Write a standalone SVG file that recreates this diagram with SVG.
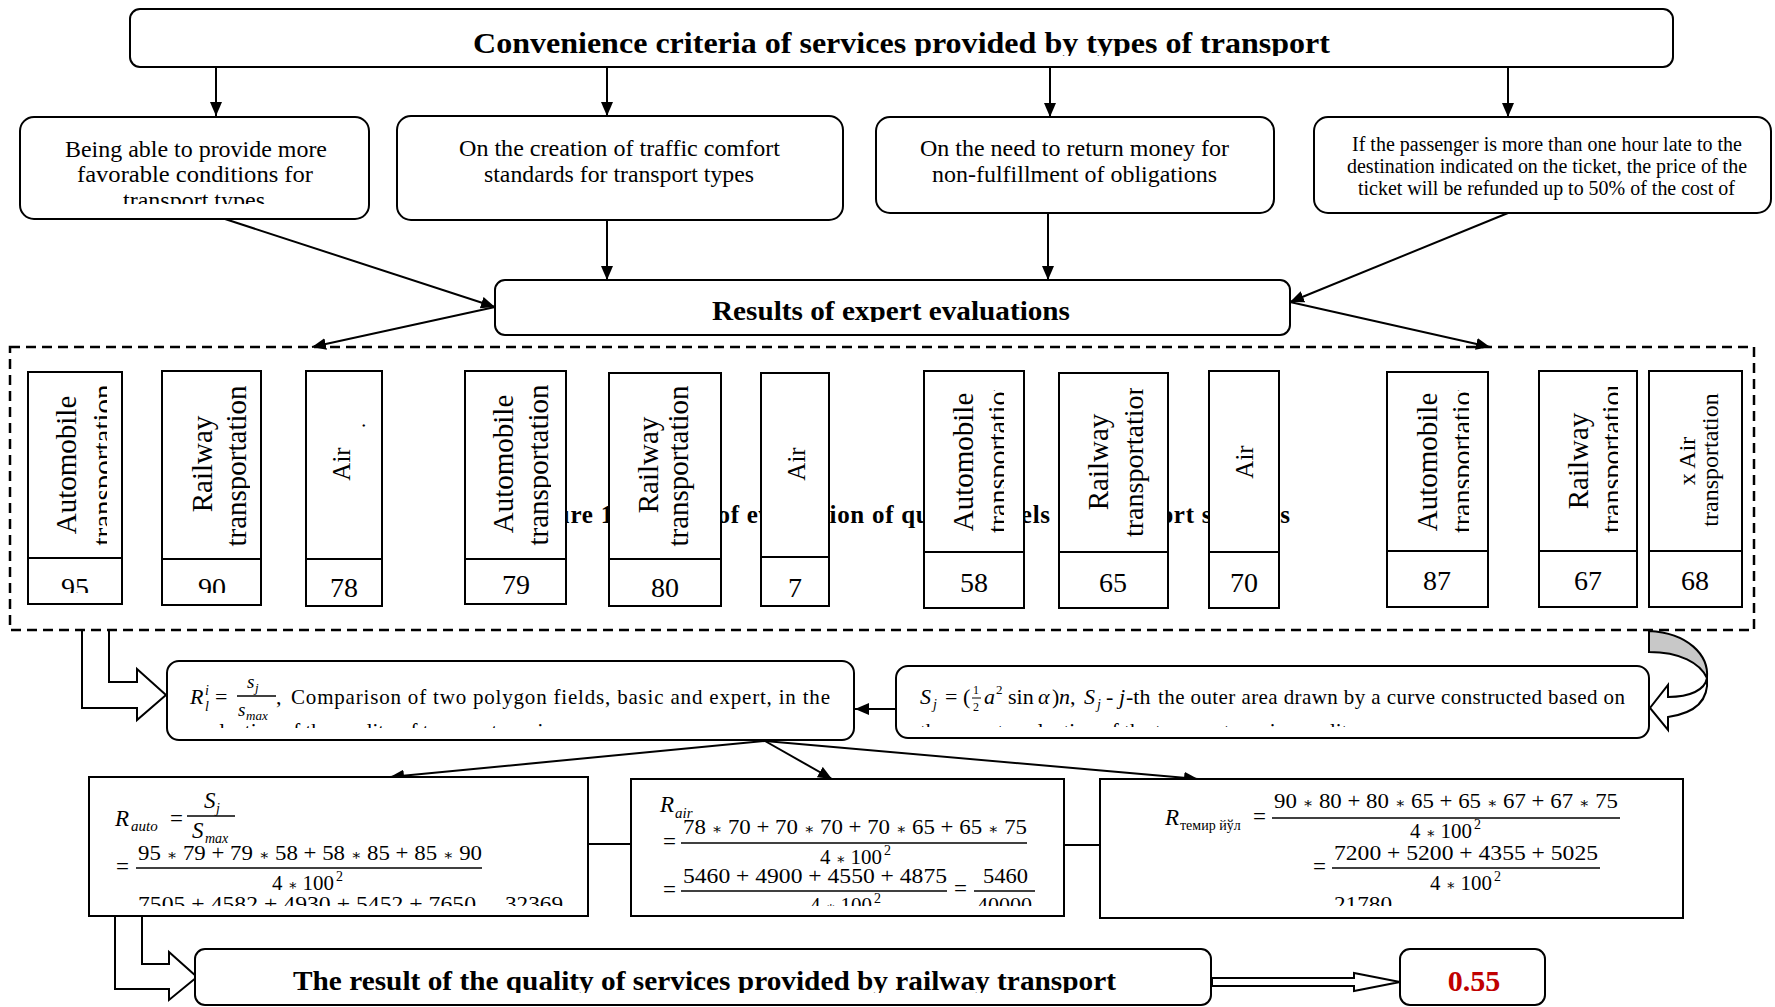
<svg xmlns="http://www.w3.org/2000/svg" width="1775" height="1007" viewBox="0 0 1775 1007">
<style>
.box{fill:#fff;stroke:#000;stroke-width:2}
.ln{stroke:#000;stroke-width:2;fill:none}
.t{font-family:"Liberation Serif","Times New Roman",serif;fill:#000}
.b{font-weight:bold}
.i{font-style:italic}
.op{font-size:15px;font-family:"DejaVu Serif","Liberation Serif",serif}
.blk{fill:#fff;stroke:#000;stroke-width:2;stroke-linejoin:miter}
</style>
<defs>
<marker id="ah" viewBox="0 0 14 12" refX="14" refY="6" markerWidth="14" markerHeight="12" markerUnits="userSpaceOnUse" orient="auto"><path d="M0,0 L14,6 L0,12 z" fill="#000"/></marker>
<clipPath id="cTitle"><rect x="130" y="9" width="1543" height="47"/></clipPath>
<clipPath id="cB1"><rect x="20" y="117" width="349" height="87"/></clipPath>
<clipPath id="cRes"><rect x="495" y="280" width="795" height="42"/></clipPath>
<clipPath id="cRl"><rect x="167" y="661" width="687" height="67"/></clipPath>
<clipPath id="cSj"><rect x="896" y="666" width="753" height="61"/></clipPath>
<clipPath id="cAuto"><rect x="89" y="777" width="499" height="129"/></clipPath>
<clipPath id="cAir"><rect x="631" y="779" width="433" height="127"/></clipPath>
<clipPath id="cTem"><rect x="1100" y="779" width="583" height="127"/></clipPath>
<clipPath id="cResult"><rect x="195" y="949" width="1016" height="44"/></clipPath>
<clipPath id="c1A"><rect x="28" y="372" width="79" height="186"/></clipPath>
<clipPath id="c1R"><rect x="162" y="371" width="88" height="188"/></clipPath>
<clipPath id="c1N"><rect x="28" y="559" width="240" height="34"/></clipPath>
<clipPath id="c2A"><rect x="465" y="371" width="86" height="188"/></clipPath>
<clipPath id="c3A"><rect x="924" y="390" width="80" height="162"/></clipPath>
<clipPath id="c3R"><rect x="1059" y="388" width="109" height="164"/></clipPath>
<clipPath id="c4A"><rect x="1387" y="390" width="82" height="161"/></clipPath>
<clipPath id="c4R"><rect x="1539" y="387" width="79" height="164"/></clipPath>
</defs>
<rect width="1775" height="1007" fill="#fff"/>

<!-- connectors -->
<g id="connectors">
<line class="ln" x1="216" y1="67" x2="216" y2="116" marker-end="url(#ah)"/>
<line class="ln" x1="607" y1="67" x2="607" y2="116" marker-end="url(#ah)"/>
<line class="ln" x1="1050" y1="67" x2="1050" y2="117" marker-end="url(#ah)"/>
<line class="ln" x1="1508" y1="67" x2="1508" y2="117" marker-end="url(#ah)"/>
<line class="ln" x1="225" y1="219" x2="495" y2="307" marker-end="url(#ah)"/>
<line class="ln" x1="607" y1="220" x2="607" y2="280" marker-end="url(#ah)"/>
<line class="ln" x1="1048" y1="213" x2="1048" y2="280" marker-end="url(#ah)"/>
<line class="ln" x1="1508" y1="213" x2="1290" y2="302" marker-end="url(#ah)"/>
<line class="ln" x1="495" y1="307" x2="312" y2="347" marker-end="url(#ah)"/>
<line class="ln" x1="1290" y1="302" x2="1490" y2="347" marker-end="url(#ah)"/>
<line class="ln" x1="896" y1="709" x2="855" y2="709" marker-end="url(#ah)"/>
<line class="ln" x1="765" y1="741" x2="390" y2="777" marker-end="url(#ah)"/>
<line class="ln" x1="765" y1="741" x2="832" y2="779" marker-end="url(#ah)"/>
<line class="ln" x1="765" y1="741" x2="1198" y2="779" marker-end="url(#ah)"/>
<line class="ln" x1="588" y1="844" x2="631" y2="844"/>
<line class="ln" x1="1064" y1="845" x2="1100" y2="845"/>
<path class="blk" d="M82,630 L82,708 L137,708 L137,720 L166,695 L137,669 L137,682 L109,682 L109,630"/>
<path class="blk" d="M115,916 L115,989 L169,989 L169,1000 L197,977 L169,952 L169,964 L142,964 L142,916"/>
<polygon class="blk" points="1212,978 1354,978 1354,973 1400,982 1354,991 1354,986 1212,986"/>
<path d="M1649,631 C1688,633 1709,655 1707,678 C1700,663 1680,652 1649,652 Z" fill="#c8c8c8" stroke="#000" stroke-width="2"/>
<path d="M1707,678 C1705,690 1690,697 1668,697 L1668,685 L1650,708 L1668,730 L1668,717 C1696,713 1709,700 1707,678 Z" fill="#fff" stroke="#000" stroke-width="2"/>
</g>

<!-- title -->
<g id="title">
<rect class="box" x="130" y="9" width="1543" height="58" rx="10"/>
<text class="t b" x="473" y="53" font-size="30" textLength="857" lengthAdjust="spacingAndGlyphs" clip-path="url(#cTitle)">Convenience criteria of services provided by types of transport</text>
</g>

<g id="crit1">
<rect class="box" x="20" y="117" width="349" height="102" rx="14"/>
<g clip-path="url(#cB1)">
<text class="t" x="65" y="157" font-size="23" textLength="262" lengthAdjust="spacingAndGlyphs">Being able to provide more</text>
<text class="t" x="77" y="182" font-size="23" textLength="236" lengthAdjust="spacingAndGlyphs">favorable conditions for</text>
<text class="t" x="123" y="208" font-size="23" textLength="142" lengthAdjust="spacingAndGlyphs">transport types</text>
</g>
</g>
<g id="crit2">
<rect class="box" x="397" y="116" width="446" height="104" rx="14"/>
<text class="t" x="459" y="156" font-size="23" textLength="321" lengthAdjust="spacingAndGlyphs">On the creation of traffic comfort</text>
<text class="t" x="484" y="182" font-size="23" textLength="270" lengthAdjust="spacingAndGlyphs">standards for transport types</text>
</g>
<g id="crit3">
<rect class="box" x="876" y="117" width="398" height="96" rx="14"/>
<text class="t" x="920" y="156" font-size="23" textLength="309" lengthAdjust="spacingAndGlyphs">On the need to return money for</text>
<text class="t" x="932" y="182" font-size="23" textLength="285" lengthAdjust="spacingAndGlyphs">non-fulfillment of obligations</text>
</g>
<g id="crit4">
<rect class="box" x="1314" y="117" width="457" height="96" rx="14"/>
<text class="t" x="1352" y="151" font-size="20" textLength="390" lengthAdjust="spacingAndGlyphs">If the passenger is more than one hour late to the</text>
<text class="t" x="1347" y="173" font-size="20" textLength="400" lengthAdjust="spacingAndGlyphs">destination indicated on the ticket, the price of the</text>
<text class="t" x="1358" y="195" font-size="20" textLength="377" lengthAdjust="spacingAndGlyphs">ticket will be refunded up to 50% of the cost of</text>
</g>

<g id="results">
<rect class="box" x="495" y="280" width="795" height="55" rx="10"/>
<text class="t b" x="712" y="320" font-size="27" textLength="358" lengthAdjust="spacingAndGlyphs" clip-path="url(#cRes)">Results of expert evaluations</text>
</g>

<!-- evaluation panel -->
<g id="panel">
<rect x="10" y="347" width="1744" height="283" fill="none" stroke="#000" stroke-width="2.5" stroke-dasharray="10,6"/>
<text class="t b" x="519" y="523" font-size="25" textLength="771">Figure 1. Results of evaluation of quality levels of transport services</text>
</g>

<g id="g1-auto">
<rect class="box" x="28" y="372" width="94" height="232"/><line class="ln" x1="28" y1="558" x2="122" y2="558"/>
<text class="t" font-size="29" text-anchor="middle" transform="translate(76,465) rotate(-90)">Automobile</text>
<g clip-path="url(#c1A)"><text class="t" font-size="29" text-anchor="middle" transform="translate(113,465) rotate(-90)">transportation</text></g>
<g clip-path="url(#c1N)"><text class="t" font-size="28" text-anchor="middle" x="75" y="597">95</text></g>
</g>
<g id="g1-rail">
<rect class="box" x="162" y="371" width="99" height="234"/><line class="ln" x1="162" y1="559" x2="261" y2="559"/>
<text class="t" font-size="29" text-anchor="middle" transform="translate(212,464) rotate(-90)">Railway</text>
<g clip-path="url(#c1R)"><text class="t" font-size="29" text-anchor="middle" transform="translate(246,466) rotate(-90)">transportation</text></g>
<g clip-path="url(#c1N)"><text class="t" font-size="28" text-anchor="middle" x="212" y="597">90</text></g>
</g>
<g id="g1-air">
<rect class="box" x="306" y="371" width="76" height="235"/><line class="ln" x1="306" y1="559" x2="382" y2="559"/>
<text class="t" font-size="25" text-anchor="middle" transform="translate(350,464) rotate(-90)">Air</text>
<text class="t" font-size="20" transform="translate(365,428) rotate(-90)">.</text>
<text class="t" font-size="28" text-anchor="middle" x="344" y="597">78</text>
</g>

<g id="g2-auto">
<rect class="box" x="465" y="371" width="101" height="233"/><line class="ln" x1="465" y1="559" x2="566" y2="559"/>
<text class="t" font-size="29" text-anchor="middle" transform="translate(513,464) rotate(-90)">Automobile</text>
<g clip-path="url(#c2A)"><text class="t" font-size="29" text-anchor="middle" transform="translate(548,465) rotate(-90)">transportation</text></g>
<text class="t" font-size="28" text-anchor="middle" x="516" y="594">79</text>
</g>
<g id="g2-rail">
<rect class="box" x="609" y="373" width="112" height="233"/><line class="ln" x1="609" y1="559" x2="721" y2="559"/>
<text class="t" font-size="29" text-anchor="middle" transform="translate(658,465) rotate(-90)">Railway</text>
<text class="t" font-size="29" text-anchor="middle" transform="translate(688,466) rotate(-90)">transportation</text>
<text class="t" font-size="28" text-anchor="middle" x="665" y="597">80</text>
</g>
<g id="g2-air">
<rect class="box" x="761" y="373" width="68" height="233"/><line class="ln" x1="761" y1="557" x2="829" y2="557"/>
<text class="t" font-size="25" text-anchor="middle" transform="translate(805,464) rotate(-90)">Air</text>
<text class="t" font-size="28" text-anchor="middle" x="795" y="597">7</text>
</g>

<g id="g3-auto">
<rect class="box" x="924" y="371" width="100" height="237"/><line class="ln" x1="924" y1="552" x2="1024" y2="552"/>
<text class="t" font-size="29" text-anchor="middle" transform="translate(973,462) rotate(-90)">Automobile</text>
<g clip-path="url(#c3A)"><text class="t" font-size="28" transform="translate(1007,533) rotate(-90)">transportation</text></g>
<text class="t" font-size="28" text-anchor="middle" x="974" y="592">58</text>
</g>
<g id="g3-rail">
<rect class="box" x="1059" y="373" width="109" height="235"/><line class="ln" x1="1059" y1="552" x2="1168" y2="552"/>
<text class="t" font-size="29" text-anchor="middle" transform="translate(1108,462) rotate(-90)">Railway</text>
<g clip-path="url(#c3R)"><text class="t" font-size="28" transform="translate(1143,537) rotate(-90)">transportation</text></g>
<text class="t" font-size="28" text-anchor="middle" x="1113" y="592">65</text>
</g>
<g id="g3-air">
<rect class="box" x="1209" y="371" width="70" height="237"/><line class="ln" x1="1209" y1="552" x2="1279" y2="552"/>
<text class="t" font-size="25" text-anchor="middle" transform="translate(1253,462) rotate(-90)">Air</text>
<text class="t" font-size="28" text-anchor="middle" x="1244" y="592">70</text>
</g>

<g id="g4-auto">
<rect class="box" x="1387" y="372" width="101" height="235"/><line class="ln" x1="1387" y1="551" x2="1488" y2="551"/>
<text class="t" font-size="29" text-anchor="middle" transform="translate(1437,462) rotate(-90)">Automobile</text>
<g clip-path="url(#c4A)"><text class="t" font-size="28" transform="translate(1471,533) rotate(-90)">transportation</text></g>
<text class="t" font-size="28" text-anchor="middle" x="1437" y="590">87</text>
</g>
<g id="g4-rail">
<rect class="box" x="1539" y="371" width="98" height="236"/><line class="ln" x1="1539" y1="551" x2="1637" y2="551"/>
<text class="t" font-size="29" text-anchor="middle" transform="translate(1588,461) rotate(-90)">Railway</text>
<g clip-path="url(#c4R)"><text class="t" font-size="28" transform="translate(1621,533) rotate(-90)">transportation</text></g>
<text class="t" font-size="28" text-anchor="middle" x="1588" y="590">67</text>
</g>
<g id="g4-air">
<rect class="box" x="1649" y="371" width="93" height="236"/><line class="ln" x1="1649" y1="551" x2="1742" y2="551"/>
<text class="t" font-size="24" text-anchor="middle" transform="translate(1695,461) rotate(-90)">x Air</text>
<text class="t" font-size="24" text-anchor="middle" transform="translate(1718,460) rotate(-90)">transportation</text>
<text class="t" font-size="28" text-anchor="middle" x="1695" y="590">68</text>
</g>

<!-- R_l box -->
<g id="ratio">
<rect class="box" x="167" y="661" width="687" height="79" rx="12"/>
<text class="t" font-size="22"><tspan class="i" x="190" y="704">R</tspan><tspan class="i" font-size="14" x="205" y="695">i</tspan><tspan class="i" font-size="14" x="205" y="711">l</tspan><tspan x="215" y="704">=</tspan><tspan class="i" font-size="19" x="247" y="688">s</tspan><tspan class="i" font-size="13" x="255" y="692">j</tspan><tspan class="i" font-size="19" x="238" y="716">s</tspan><tspan class="i" font-size="13" x="246" y="720">max</tspan><tspan x="276" y="704">,</tspan></text>
<line x1="237" y1="696" x2="276" y2="696" stroke="#000" stroke-width="1.5"/>
<text class="t" x="291" y="704" font-size="21" textLength="539">Comparison of two polygon fields, basic and expert, in the</text>
<text class="t" x="190" y="738" font-size="21" clip-path="url(#cRl)">evaluation of the quality of transport services</text>
</g>

<!-- S_j box -->
<g id="area">
<rect class="box" x="896" y="666" width="753" height="72" rx="12"/>
<text class="t" font-size="22"><tspan class="i" x="920" y="704">S</tspan><tspan class="i" font-size="14" x="933" y="709">j</tspan><tspan x="945" y="704">=</tspan><tspan x="963" y="704">(</tspan><tspan font-size="12" x="973" y="694">1</tspan><tspan font-size="12" x="973" y="711">2</tspan><tspan class="i" x="984" y="704">a</tspan><tspan font-size="13" x="996" y="694">2</tspan><tspan x="1008" y="704">sin</tspan><tspan class="i" x="1038" y="704">α</tspan><tspan x="1052" y="704">)</tspan><tspan class="i" x="1059" y="704">n</tspan><tspan x="1070" y="704">,</tspan><tspan class="i" x="1084" y="704">S</tspan><tspan class="i" font-size="14" x="1097" y="709">j</tspan><tspan x="1106" y="704">-</tspan><tspan class="i" x="1119" y="704">j</tspan><tspan x="1126" y="704">-th</tspan></text>
<line x1="972" y1="698" x2="981" y2="698" stroke="#000" stroke-width="1"/>
<text class="t" x="1158" y="704" font-size="21" textLength="467">the outer area drawn by a curve constructed based on</text>
<text class="t" x="920" y="738" font-size="21" clip-path="url(#cSj)">the expert evaluation of the transport service quality</text>
</g>

<!-- R_auto -->
<g id="r-auto">
<rect class="box" x="89" y="777" width="499" height="139"/>
<g clip-path="url(#cAuto)">
<text class="t" font-size="23"><tspan class="i" x="115" y="826">R</tspan><tspan class="i" font-size="15" x="131" y="831">auto</tspan><tspan x="170" y="826">=</tspan><tspan class="i" x="204" y="808">S</tspan><tspan class="i" font-size="14" x="216" y="813">j</tspan><tspan class="i" x="192" y="838">S</tspan><tspan class="i" font-size="14" x="205" y="843">max</tspan><tspan x="116" y="874">=</tspan></text>
<line x1="187" y1="816" x2="235" y2="816" stroke="#000" stroke-width="1.5"/>
<text class="t" x="138" y="860" font-size="22" textLength="344" lengthAdjust="spacingAndGlyphs">95 <tspan class="op">∗</tspan> 79 + 79 <tspan class="op">∗</tspan> 58 + 58 <tspan class="op">∗</tspan> 85 + 85 <tspan class="op">∗</tspan> 90</text>
<line x1="136" y1="868" x2="482" y2="868" stroke="#000" stroke-width="1.5"/>
<text class="t" x="272" y="890" font-size="22" textLength="62" lengthAdjust="spacingAndGlyphs">4 <tspan class="op">∗</tspan> 100</text>
<text class="t" x="336" y="881" font-size="14">2</text>
<text class="t" x="138" y="911" font-size="22" textLength="338" lengthAdjust="spacingAndGlyphs">7505 + 4582 + 4930 + 5452 + 7650</text>
<text class="t" x="505" y="911" font-size="22" textLength="58" lengthAdjust="spacingAndGlyphs">32369</text>
</g>
</g>

<!-- R_air -->
<g id="r-air">
<rect class="box" x="631" y="779" width="433" height="137"/>
<g clip-path="url(#cAir)">
<text class="t" font-size="23"><tspan class="i" x="660" y="812">R</tspan><tspan class="i" font-size="15" x="675" y="818">air</tspan><tspan x="663" y="849">=</tspan><tspan x="663" y="897">=</tspan><tspan x="954" y="896">=</tspan></text>
<text class="t" x="683" y="834" font-size="22" textLength="344" lengthAdjust="spacingAndGlyphs">78 <tspan class="op">∗</tspan> 70 + 70 <tspan class="op">∗</tspan> 70 + 70 <tspan class="op">∗</tspan> 65 + 65 <tspan class="op">∗</tspan> 75</text>
<line x1="681" y1="843" x2="1027" y2="843" stroke="#000" stroke-width="1.5"/>
<text class="t" x="820" y="864" font-size="22" textLength="62" lengthAdjust="spacingAndGlyphs">4 <tspan class="op">∗</tspan> 100</text>
<text class="t" x="884" y="855" font-size="14">2</text>
<text class="t" x="683" y="883" font-size="22" textLength="264" lengthAdjust="spacingAndGlyphs">5460 + 4900 + 4550 + 4875</text>
<line x1="681" y1="891" x2="947" y2="891" stroke="#000" stroke-width="1.5"/>
<text class="t" x="983" y="883" font-size="22" textLength="45" lengthAdjust="spacingAndGlyphs">5460</text>
<line x1="974" y1="891" x2="1035" y2="891" stroke="#000" stroke-width="1.5"/>
<text class="t" x="810" y="912" font-size="22" textLength="62" lengthAdjust="spacingAndGlyphs">4 <tspan class="op">∗</tspan> 100</text>
<text class="t" x="874" y="903" font-size="14">2</text>
<text class="t" x="977" y="912" font-size="22" textLength="55" lengthAdjust="spacingAndGlyphs">40000</text>
</g>
</g>

<!-- R_temir -->
<g id="r-rail">
<rect class="box" x="1100" y="779" width="583" height="139"/>
<g clip-path="url(#cTem)">
<text class="t" font-size="23"><tspan class="i" x="1165" y="825">R</tspan><tspan font-size="14" x="1180" y="830">темир йўл</tspan><tspan x="1253" y="824">=</tspan><tspan x="1313" y="874">=</tspan></text>
<text class="t" x="1274" y="808" font-size="22" textLength="344" lengthAdjust="spacingAndGlyphs">90 <tspan class="op">∗</tspan> 80 + 80 <tspan class="op">∗</tspan> 65 + 65 <tspan class="op">∗</tspan> 67 + 67 <tspan class="op">∗</tspan> 75</text>
<line x1="1272" y1="818" x2="1620" y2="818" stroke="#000" stroke-width="1.5"/>
<text class="t" x="1410" y="838" font-size="22" textLength="62" lengthAdjust="spacingAndGlyphs">4 <tspan class="op">∗</tspan> 100</text>
<text class="t" x="1474" y="829" font-size="14">2</text>
<text class="t" x="1334" y="860" font-size="22" textLength="264" lengthAdjust="spacingAndGlyphs">7200 + 5200 + 4355 + 5025</text>
<line x1="1332" y1="868" x2="1600" y2="868" stroke="#000" stroke-width="1.5"/>
<text class="t" x="1430" y="890" font-size="22" textLength="62" lengthAdjust="spacingAndGlyphs">4 <tspan class="op">∗</tspan> 100</text>
<text class="t" x="1494" y="881" font-size="14">2</text>
<text class="t" x="1334" y="911" font-size="22" textLength="58" lengthAdjust="spacingAndGlyphs">21780</text>
</g>
</g>

<g id="result">
<rect class="box" x="195" y="949" width="1016" height="56" rx="10"/>
<text class="t b" x="293" y="990" font-size="27" textLength="823" lengthAdjust="spacingAndGlyphs" clip-path="url(#cResult)">The result of the quality of services provided by railway transport</text>
</g>
<g id="value">
<rect class="box" x="1400" y="949" width="145" height="56" rx="10"/>
<text class="t b" x="1474" y="991" font-size="30" text-anchor="middle" fill="#c00000" style="fill:#c00000">0.55</text>
</g>
</svg>
